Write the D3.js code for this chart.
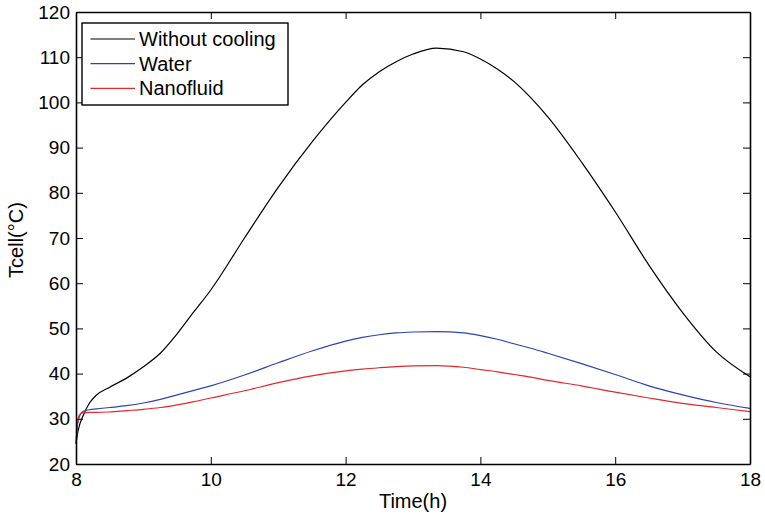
<!DOCTYPE html>
<html>
<head>
<meta charset="utf-8">
<script src="https://cdn.jsdelivr.net/npm/d3@7"></script>
<style>
  body { margin: 0; background: #fff; }
  svg { font-family: "Liberation Sans", Arial, Helvetica, sans-serif; }
</style>
</head>
<body>
<div id="chart"></div>
<script>
// time of day (h)
var hours = [8, 8.02, 8.05, 8.1, 8.2, 8.3, 8.5, 8.75, 9, 9.25, 9.5, 9.75, 10, 10.5, 11, 11.5,
             12, 12.25, 12.5, 12.75, 13, 13.35, 13.75, 14, 14.25, 14.5, 14.75, 15, 15.5, 16, 16.5, 17, 17.5, 18];

// cell temperature (°C)
var withoutCooling = [24.5, 26.5, 28.5, 30.5, 33.5, 35.2, 37.0, 39.0, 41.5, 44.5, 48.8, 53.7, 58.5, 70, 81.2, 91.2,
                      100.0, 103.9, 106.8, 109.0, 110.7, 112.0, 111.2, 109.6, 107.4, 104.6, 101.0, 96.8,
                      86.8, 75.8, 64, 53.5, 44.8, 39.3];
var water = [24.5, 28.5, 30.5, 31.6, 32.0, 32.2, 32.5, 32.9, 33.5, 34.3, 35.3, 36.3, 37.3, 39.7, 42.4, 45.0,
             47.2, 48.0, 48.6, 49.0, 49.2, 49.3, 49.0, 48.4, 47.6, 46.6, 45.6, 44.5,
             42.2, 39.8, 37.3, 35.3, 33.6, 32.3];
var nanofluid = [24.5, 28.5, 30.8, 31.3, 31.4, 31.4, 31.5, 31.8, 32.1, 32.5, 33.1, 33.8, 34.6, 36.2, 38.0, 39.5,
                 40.6, 41.0, 41.3, 41.55, 41.7, 41.75, 41.4, 40.9, 40.4, 39.8, 39.2, 38.5,
                 37.3, 35.9, 34.6, 33.4, 32.5, 31.6];

var seriesNames = ["Without cooling", "Water", "Nanofluid"];
var seriesColors = ["#000000", "#2b44b3", "#e5262b"];
var xTicks = [8, 10, 12, 14, 16, 18];
var yTicks = [20, 30, 40, 50, 60, 70, 80, 90, 100, 110, 120];

window.w = 765;
window.h = 518;
let margin = {left: 76, right: 15, top: 12, bottom: 54};

const chart = d3.select("#chart")
  .append("svg")
  .attr("width", w)
  .attr("height", h);

var xScale = d3.scaleLinear()
  .domain([8, 18])
  .range([margin.left, w - margin.right]);

var yScale = d3.scaleLinear()
  .domain([20, 120])
  .range([h - margin.bottom, margin.top]);

// data lines
var allSeries = [withoutCooling, water, nanofluid];
allSeries.forEach(function(vals, i) {
  chart.append("path")
    .datum(hours.map(function(t, j) { return [t, vals[j]]; }))
    .attr("fill", "none")
    .attr("stroke", seriesColors[i])
    .attr("stroke-width", 1.2)
    .attr("d", d3.line()
      .x(function(d) { return xScale(d[0]); })
      .y(function(d) { return yScale(d[1]); })
      .curve(d3.curveMonotoneX)
    );
});

// axes (box with inward ticks)
var axBottom = chart.append("g")
  .attr("transform", "translate(0," + (h - margin.bottom) + ")")
  .call(d3.axisBottom(xScale).tickValues(xTicks).tickSizeInner(-7).tickSizeOuter(0).tickPadding(9).tickFormat(d3.format("d")));
var axLeft = chart.append("g")
  .attr("transform", "translate(" + margin.left + ",0)")
  .call(d3.axisLeft(yScale).tickValues(yTicks).tickSizeInner(-7).tickSizeOuter(0).tickPadding(6).tickFormat(d3.format("d")));
var axTop = chart.append("g")
  .attr("transform", "translate(0," + margin.top + ")")
  .call(d3.axisTop(xScale).tickValues(xTicks).tickSizeInner(-7).tickSizeOuter(0).tickFormat(""));
var axRight = chart.append("g")
  .attr("transform", "translate(" + (w - margin.right) + ",0)")
  .call(d3.axisRight(yScale).tickValues(yTicks).tickSizeInner(-7).tickSizeOuter(0).tickFormat(""));

[axBottom, axLeft, axTop, axRight].forEach(function(g) {
  g.select(".domain").attr("stroke", "#000").attr("stroke-width", 1.6);
  g.selectAll(".tick line").attr("stroke", "#000").attr("stroke-width", 1);
  g.selectAll(".tick text").attr("fill", "#000").style("font-size", "19px").style("font-family", "Liberation Sans, Arial, sans-serif");
});

// axis titles
chart.append("text")
  .attr("x", (xScale(8) + xScale(18)) / 2)
  .attr("y", 508)
  .attr("text-anchor", "middle")
  .style("font-size", "20px")
  .text("Time(h)");

chart.append("text")
  .attr("transform", "translate(23," + 240 + ") rotate(-90)")
  .attr("text-anchor", "middle")
  .style("font-size", "20px")
  .text("Tcell(°C)");

// legend
var legend = chart.append("g").attr("transform", "translate(82,23)");
legend.append("rect")
  .attr("width", 206)
  .attr("height", 82)
  .attr("fill", "#fff")
  .attr("stroke", "#000")
  .attr("stroke-width", 1.4);
seriesNames.forEach(function(name, i) {
  var yy = 16 + i * 24.7;
  legend.append("line")
    .attr("x1", 8.5).attr("x2", 53)
    .attr("y1", yy).attr("y2", yy)
    .attr("stroke", seriesColors[i])
    .attr("stroke-width", 1.2);
  legend.append("text")
    .attr("x", 57)
    .attr("y", yy + 7)
    .style("font-size", "20px")
    .text(name);
});
</script>
</body>
</html>
